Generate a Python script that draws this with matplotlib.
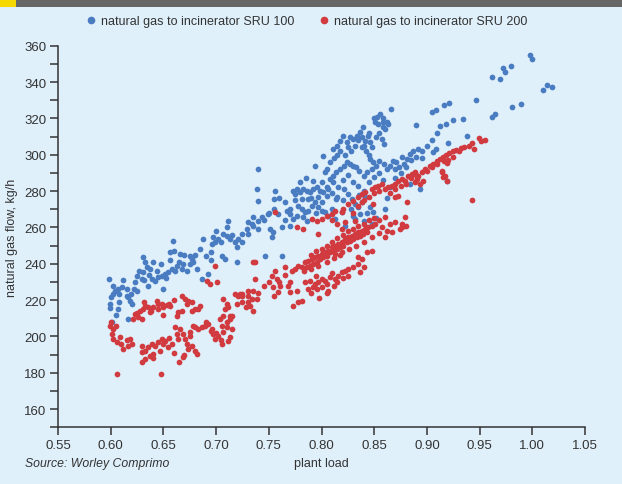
import matplotlib
matplotlib.use("Agg")
import matplotlib.pyplot as plt
from matplotlib.patches import Rectangle
from matplotlib.lines import Line2D
from matplotlib.ticker import MultipleLocator

plt.rcParams['font.family'] = ['Liberation Sans', 'DejaVu Sans']

# ---- data: SRU 100 (blue) ----
sru100_load = [
    0.5984, 0.5993, 0.5993, 0.6003, 0.6025, 0.6041, 0.6066, 0.6079, 0.6072, 0.6104,
    0.6152, 0.6167, 0.6183, 0.6167, 0.6193, 0.6231, 0.6247, 0.6247, 0.6294, 0.6309,
    0.6325, 0.6342, 0.6357, 0.6373, 0.6309, 0.6389, 0.6420, 0.6452, 0.6499, 0.6484,
    0.6515, 0.6547, 0.6563, 0.6594, 0.6579, 0.6610, 0.6626, 0.6657, 0.6674, 0.6689,
    0.6721, 0.6752, 0.6768, 0.6784, 0.6816, 0.6863, 0.6879, 0.6926, 0.6952, 0.6958,
    0.6990, 0.6974, 0.7021, 0.7053, 0.7068, 0.7100, 0.7084, 0.7132, 0.7116, 0.7179,
    0.7195, 0.7243, 0.7290, 0.7305, 0.7338,
    0.7400, 0.7385, 0.7400, 0.7559, 0.7553, 0.7654, 0.7670, 0.7590, 0.7495, 0.7433,
    0.7400, 0.7353, 0.7211, 0.7400, 0.7511, 0.7543, 0.7527, 0.7622, 0.7701, 0.7464,
    0.7622,
    0.7733, 0.7765, 0.7796, 0.7827, 0.7860, 0.7891, 0.7922, 0.7954, 0.7986, 0.8017,
    0.7922, 0.7938, 0.8033, 0.8017, 0.8049, 0.8065, 0.7780, 0.7812, 0.7843, 0.7875,
    0.7907, 0.7938, 0.7970, 0.8002, 0.8033, 0.8065, 0.7827, 0.7860, 0.7765, 0.7733,
    0.7701, 0.7812, 0.7875, 0.7970, 0.7750,
    0.8660, 0.8555, 0.8524, 0.8508, 0.8539, 0.8580, 0.8587, 0.8634, 0.8603,
    0.8397, 0.8365, 0.8334, 0.8302, 0.8270, 0.8239, 0.8207, 0.8176, 0.8144, 0.8112,
    0.8380, 0.8410, 0.8440, 0.8400, 0.8460, 0.8570, 0.8590, 0.8897,
    0.9045, 0.9086, 0.9090, 0.9060,
    0.8840, 0.8870, 0.8920, 0.8950, 0.8810, 0.8760, 0.8710, 0.8680, 0.8650, 0.8700,
    0.8740, 0.8620, 0.8590, 0.8550, 0.8520, 0.8490, 0.8460, 0.8480, 0.8430, 0.8400,
    0.8360, 0.8330, 0.8300, 0.8270, 0.8240, 0.8210, 0.8180, 0.8140, 0.8110, 0.8080,
    0.8110, 0.8160, 0.8210, 0.8250, 0.8290, 0.8320, 0.8350, 0.8380, 0.8410, 0.8460,
    0.8490, 0.8370, 0.8300, 0.8220, 0.8320, 0.8400, 0.8480, 0.8140, 0.8130, 0.8190,
    0.8935, 0.8840,
    0.9980, 0.9995, 0.9725, 0.9740, 0.9795, 0.9620, 0.9690, 1.0105, 1.0142, 1.0187,
    0.9466, 0.9160, 0.9210, 0.9810, 0.9890, 0.9620, 0.9650, 0.9250, 0.9340, 0.9380,
    0.9200, 0.9190,
]
sru100_flow = [
    231.6, 217.8, 215.4, 221.5, 223.3, 225.1, 226.1, 223.3, 215.0, 227.0,
    226.1, 221.5, 219.6, 209.5, 223.3, 229.8, 233.4, 225.1, 231.6, 235.3,
    240.8, 238.0, 227.9, 237.1, 243.5, 231.6, 230.6, 232.5, 226.1, 233.4,
    234.3, 235.3, 246.3, 252.7, 237.1, 236.1, 238.9, 245.3, 237.1, 239.8,
    236.1, 244.4, 242.6, 240.8, 237.1, 231.6, 253.6, 234.3, 246.3, 250.8,
    251.8, 254.5, 253.6, 244.4, 256.3, 255.4, 242.6, 253.6, 263.7, 251.8,
    240.8, 256.3, 259.1, 256.3, 261.8,
    292.1, 281.1, 274.7, 280.2, 275.6, 273.8, 269.2, 267.3, 267.3, 265.5,
    263.7, 260.9, 253.6, 259.1, 259.1, 257.3, 254.5, 260.0, 260.9, 244.4,
    244.4,
    280.2, 281.1, 279.3, 281.1, 280.2, 279.3, 281.1, 282.0, 280.2, 279.3,
    285.7, 293.9, 290.3, 299.4, 277.4, 281.1, 271.9, 270.1, 268.3, 269.2,
    271.9, 273.8, 271.0, 269.2, 268.3, 266.4, 265.5, 263.7, 266.4, 264.6,
    267.3, 275.6, 275.6, 276.5, 278.4,
    325.2, 322.4, 320.5, 317.8, 316.9, 317.8, 315.1, 316.9, 314.1,
    315.1, 312.3, 310.5, 308.6, 309.6, 306.8, 310.5, 307.8, 305.0, 303.1,
    309.6, 307.8, 310.5, 305.0, 306.8, 308.6, 305.9, 316.3,
    323.3, 324.8, 303.1, 301.3,
    300.4, 302.2, 303.1, 302.2, 297.6, 298.6, 295.8, 296.7, 293.9, 292.1,
    293.0, 292.1, 294.9, 296.7, 293.9, 295.8, 297.6, 292.1, 290.3, 288.4,
    291.2, 293.0, 293.9, 294.9, 295.8, 293.9, 292.1, 290.3, 288.4, 286.6,
    284.8, 282.0, 281.1, 278.4, 275.6, 272.9, 271.0, 273.8, 276.5, 271.0,
    268.3, 267.3, 266.4, 260.9, 264.6, 263.7, 261.8, 275.6, 264.6, 268.3,
    281.1, 284.0,
    354.9, 352.6, 347.7, 345.5, 348.7, 342.6, 341.9, 335.6, 338.2, 337.5,
    330.1, 327.2, 328.3, 326.1, 327.7, 320.9, 322.4, 319.1, 319.5, 310.3,
    306.3, 285.4,
]
# additional SRU 100 points read from the denser areas
sru100_load_more = [
    0.800, 0.805, 0.808, 0.812, 0.815, 0.818, 0.822, 0.825, 0.828, 0.832,
    0.835, 0.838, 0.842, 0.845, 0.848, 0.852, 0.855, 0.858, 0.862, 0.850,
    0.845, 0.805, 0.810, 0.815, 0.820, 0.825, 0.830, 0.835, 0.840, 0.845,
    0.850, 0.855, 0.858, 0.862, 0.865, 0.870, 0.875, 0.878, 0.880, 0.885,
    0.890, 0.895, 0.900, 0.905, 0.910, 0.912, 0.918, 0.800, 0.810, 0.820,
    0.828, 0.836, 0.843, 0.852, 0.860,
    0.602, 0.605, 0.608, 0.612, 0.615, 0.620, 0.622, 0.627, 0.632, 0.636,
    0.640, 0.644, 0.648, 0.652, 0.656, 0.660, 0.665, 0.670, 0.675, 0.680,
    0.685, 0.690, 0.695, 0.700, 0.705, 0.710, 0.715, 0.720, 0.725, 0.730,
    0.735, 0.745, 0.750, 0.755, 0.760, 0.765, 0.770, 0.775, 0.780, 0.785,
    0.790, 0.795, 0.601,
]
sru100_flow_more = [
    285, 292, 296, 298, 300, 302, 300, 304, 302, 305,
    308, 304, 302, 300, 304, 310, 312, 320, 318, 320,
    312, 282, 279, 277, 286, 289, 285, 283, 280, 285,
    288, 290, 286, 276, 282, 287, 290, 295, 293, 297,
    299, 298, 305, 308, 312, 316, 317, 274, 270, 275,
    270, 278, 268, 265, 270,
    228, 212, 219, 231, 222, 218, 226, 236, 231, 234,
    241, 236, 240, 232, 242, 247, 241, 245, 240, 245,
    248, 244, 242, 258, 252, 260, 256, 249, 252, 263,
    266, 264, 268, 270, 276, 264, 270, 275, 285, 287,
    276, 268, 208,
]

# ---- data: SRU 200 (red) ----
sru200_load = [
    0.6057, 0.6477, 0.5993, 0.6025, 0.6010, 0.6025, 0.6057, 0.6088, 0.6120, 0.6167,
    0.6199, 0.6183, 0.6214, 0.6230, 0.6262, 0.6278, 0.6294, 0.6309, 0.6325, 0.6357,
    0.6373, 0.6404, 0.6436, 0.6452, 0.6484, 0.6499, 0.6531, 0.6563,
    0.6294, 0.6325, 0.6357, 0.6389, 0.6420, 0.6452, 0.6484, 0.6515, 0.6547, 0.6579,
    0.6325, 0.6373, 0.6404, 0.6294, 0.6468, 0.6626, 0.6610, 0.6657, 0.6641, 0.6689,
    0.6705, 0.6721, 0.6736, 0.6768, 0.6800, 0.6816, 0.6689, 0.6752, 0.6784, 0.6831,
    0.6863, 0.6895, 0.6926, 0.6958, 0.6974, 0.6990, 0.7021, 0.7053, 0.7068, 0.7100,
    0.7132, 0.7147, 0.7116, 0.7132, 0.7053,
    0.6674, 0.6705, 0.6736, 0.6768, 0.6721, 0.6674, 0.6641, 0.6626, 0.6768, 0.6800,
    0.6831, 0.6847,
    0.6990, 0.6910, 0.6942, 0.7005, 0.7068, 0.7100, 0.7084, 0.7116, 0.7132, 0.7068,
    0.7037, 0.7179, 0.7211, 0.7243, 0.7305, 0.7338, 0.7353, 0.7305,
    0.7559, 0.7765, 0.7827, 0.7970, 0.7907, 0.7954, 0.8002, 0.8049, 0.8097, 0.8128,
    0.8192, 0.8254, 0.8302, 0.8349, 0.8381, 0.8413, 0.8381, 0.8476, 0.8508, 0.8539,
    0.8570, 0.8492, 0.8223, 0.8192, 0.8318,
    0.7843, 0.7875, 0.7907, 0.7938, 0.7970, 0.8002, 0.8033, 0.8065, 0.8097, 0.8128,
    0.8160, 0.8192, 0.8223, 0.8254, 0.8286, 0.8318, 0.8349, 0.8381, 0.8413, 0.8444,
    0.8476, 0.8508, 0.8570, 0.7860, 0.7891, 0.7922, 0.7954, 0.7986, 0.8017, 0.8049,
    0.8081, 0.8112, 0.8144, 0.8176, 0.8207, 0.8239, 0.8270, 0.8302, 0.8334, 0.8365,
    0.8397, 0.8428, 0.7812, 0.7780, 0.7750, 0.7717, 0.8128, 0.8192, 0.8349, 0.8381,
    0.8428, 0.8476, 0.8365,
    0.7843, 0.7891, 0.7938, 0.7970, 0.8002, 0.8033, 0.8081, 0.8128, 0.8160, 0.8192,
    0.8223, 0.8254, 0.7875, 0.7922, 0.7954, 0.7780, 0.7812, 0.7733, 0.8065,
    0.7559, 0.7527, 0.7575, 0.7606, 0.7543, 0.7590, 0.7685, 0.7701, 0.7765, 0.7369,
    0.7353, 0.7305, 0.7385, 0.7227, 0.7243, 0.7322, 0.7654, 0.7369,
    0.8634, 0.8666, 0.8697, 0.8729, 0.8761, 0.8792, 0.8824, 0.8856, 0.8887, 0.8919,
    0.8951, 0.8903, 0.8935, 0.8982, 0.8887, 0.8966, 0.9029, 0.9060, 0.9093, 0.9140,
    0.9172, 0.9187, 0.8697, 0.8729, 0.8810, 0.8792, 0.8761, 0.8745, 0.8666, 0.8603,
    0.8800, 0.8760,
    0.9430, 0.9490, 0.9510, 0.9320, 0.9280, 0.9250, 0.9210, 0.9180, 0.9150, 0.9120,
    0.9160, 0.9190, 0.9140, 0.9150, 0.9425,
]
sru200_flow = [
    179.3, 179.3, 205.9, 204.0, 201.3, 198.5, 196.7, 199.5, 193.0, 194.8,
    195.8, 198.5, 209.5, 212.3, 210.5, 214.1, 209.5, 215.1, 216.9, 216.0,
    213.2, 216.0, 219.6, 215.1, 217.8, 216.0, 217.3, 216.5,
    191.2, 192.1, 194.0, 195.8, 194.8, 196.7, 198.5, 197.6, 194.0, 195.8,
    187.5, 189.3, 190.3, 185.7, 192.1, 201.3, 205.0, 204.0, 198.5, 201.3,
    198.5, 195.8, 193.0, 194.8, 192.1, 190.3, 188.5, 202.2, 205.9, 204.0,
    205.0, 205.9, 206.8, 204.0, 201.3, 198.5, 200.4, 205.9, 202.2, 207.7,
    209.5, 204.0, 197.6, 199.5, 195.8,
    222.4, 220.6, 219.6, 218.7, 217.8, 214.1, 213.2, 211.4, 214.1, 215.1,
    215.1, 216.9,
    238.9, 230.6, 228.8, 229.8, 220.6, 217.8, 215.1, 216.0, 211.4, 211.4,
    209.5, 223.3, 222.4, 223.3, 225.1, 220.6, 240.8, 218.7,
    268.3, 260.0, 259.1, 256.3, 264.6, 263.7, 264.6, 266.4, 267.3, 269.2,
    268.3, 272.9, 274.7, 276.5, 278.4, 279.3, 273.8, 281.1, 282.0, 283.0,
    283.9, 272.9, 262.8, 259.1, 263.7,
    240.8, 241.7, 242.6, 243.5, 244.4, 245.3, 246.3, 247.2, 249.0, 249.9,
    250.8, 251.8, 253.6, 254.5, 255.4, 256.3, 257.3, 258.2, 259.1, 260.0,
    260.9, 261.8, 260.0, 238.0, 238.9, 239.8, 240.8, 242.6, 243.5, 244.4,
    246.3, 247.2, 248.1, 249.0, 249.9, 251.8, 252.7, 253.6, 254.5, 255.4,
    256.3, 257.3, 238.0, 238.9, 237.1, 236.1, 245.3, 246.3, 243.5, 242.6,
    246.3, 247.2, 235.3,
    229.8, 230.6, 228.8, 229.8, 231.6, 230.6, 232.5, 231.6, 233.4, 235.3,
    236.1, 237.1, 226.1, 227.0, 226.1, 218.7, 219.6, 216.9, 225.1,
    236.1, 233.4, 231.6, 227.9, 227.0, 224.3, 227.9, 224.3, 225.1, 231.6,
    225.1, 222.4, 220.6, 223.3, 218.7, 216.9, 238.0, 240.8,
    282.0, 283.0, 283.9, 285.7, 286.6, 285.7, 288.4, 289.4, 290.3, 288.4,
    290.3, 286.6, 283.9, 292.1, 284.8, 285.7, 293.9, 294.9, 296.7, 291.2,
    288.4, 285.7, 276.5, 277.4, 273.8, 265.5, 261.8, 259.1, 257.3, 254.5,
    261.0, 260.0,
    306.3, 309.2, 307.7, 303.7, 302.6, 301.9, 300.8, 299.7, 298.6, 297.6,
    296.4, 295.3, 290.3, 287.6, 275.2,
]
# additional SRU 200 points read from the denser areas
sru200_load_more = [
    0.790, 0.795, 0.800, 0.805, 0.810, 0.815, 0.820, 0.825, 0.830, 0.835,
    0.840, 0.845, 0.850, 0.855, 0.860, 0.865, 0.870,
    0.783, 0.790, 0.797, 0.805, 0.812, 0.818, 0.826, 0.833, 0.840, 0.848,
    0.855, 0.862,
    0.795, 0.800, 0.805, 0.810, 0.815, 0.820, 0.825, 0.830, 0.835, 0.840,
    0.790, 0.798, 0.805, 0.812,
    0.810, 0.815, 0.820, 0.830, 0.835, 0.840, 0.845, 0.850, 0.855, 0.860,
    0.865, 0.870, 0.875, 0.880, 0.885, 0.890, 0.900, 0.905, 0.910, 0.920,
    0.925, 0.930, 0.935, 0.940, 0.945, 0.955,
    0.600, 0.605, 0.610, 0.615, 0.625, 0.632, 0.638, 0.645, 0.650, 0.655,
    0.660, 0.630, 0.640, 0.650, 0.655, 0.660, 0.665, 0.670, 0.675, 0.680,
    0.690, 0.695, 0.700, 0.705, 0.710, 0.715, 0.720, 0.725, 0.728, 0.735,
    0.740, 0.745, 0.750, 0.755, 0.760, 0.765, 0.770,
]
sru200_flow_more = [
    245, 247, 248, 250, 252, 254, 256, 258, 259, 261,
    262, 264, 265, 264, 266, 262, 263,
    236, 237, 239, 241, 243, 245, 248, 250, 252, 255,
    257, 258,
    233, 227, 229, 235, 230, 232, 233, 238, 240, 238,
    224, 221, 224, 228,
    264, 262, 270, 268, 272, 275, 277, 279, 280, 281,
    279, 281, 283, 284, 287, 289, 291, 293, 295, 297,
    299, 302, 304, 305, 303, 308,
    208, 206, 196, 198, 213, 219, 214, 218, 212, 218,
    220, 195, 188, 196, 199, 191, 186, 190, 200, 205,
    208, 203, 202, 198, 205, 211, 218, 222, 216, 214,
    224, 228, 230, 222, 230, 234, 230,
]

x_ticks = [0.55, 0.60, 0.65, 0.70, 0.75, 0.80, 0.85, 0.90, 0.95, 1.00, 1.05]
y_ticks = [160, 180, 200, 220, 240, 260, 280, 300, 320, 340, 360]

BG = '#dff0fb'
BLUE = '#4a7cc1'
RED = '#d13b40'
TXT = '#333333'

W, H = 622, 485
fig = plt.figure(figsize=(W / 100, H / 100), dpi=100, facecolor=BG)
ax = fig.add_axes([58 / W, 1 - 428.3 / H, (585 - 58) / W, (428.3 - 46.7) / H])
ax.set_facecolor(BG)

ax.scatter(sru100_load + sru100_load_more, sru100_flow + sru100_flow_more,
           s=17, color=BLUE, linewidths=0, zorder=3)
ax.scatter(sru200_load + sru200_load_more, sru200_flow + sru200_flow_more,
           s=17, color=RED, linewidths=0, zorder=3)

ax.set_xlim(0.55, 1.05)
ax.set_ylim(150, 360)
ax.set_xticks(x_ticks)
ax.set_xticklabels([f'{v:.2f}' for v in x_ticks])
ax.set_yticks(y_ticks)
ax.set_yticklabels([str(v) for v in y_ticks])
ax.yaxis.set_minor_locator(MultipleLocator(10))

for s in ['top', 'right']:
    ax.spines[s].set_visible(False)
for s in ['left', 'bottom']:
    ax.spines[s].set_color('#333333')
    ax.spines[s].set_linewidth(1.1)
ax.tick_params(axis='both', which='major', length=5.5, width=1.1, color='#333333',
               labelsize=9.5, labelcolor=TXT, pad=3)
ax.tick_params(axis='y', which='minor', length=5.5, width=1.1, color='#333333')

ax.set_ylabel('natural gas flow, kg/h', fontsize=9, color=TXT)
ax.yaxis.set_label_coords((18 - 58) / 527, 0.5)
fig.text(321 / W, 1 - 464 / H, 'plant load', ha='center', va='center', fontsize=9, color=TXT)
fig.text(25 / W, 1 - 464 / H, 'Source: Worley Comprimo', ha='left', va='center',
         fontsize=8.8, color=TXT, style='italic')

# top bar
fig.patches.append(Rectangle((0, 1 - 8 / H), 1, 8 / H, transform=fig.transFigure,
                             facecolor='#666666', edgecolor='none', zorder=5))
fig.patches.append(Rectangle((0, 1 - 8 / H), 16 / W, 8 / H, transform=fig.transFigure,
                             facecolor='#f5d800', edgecolor='none', zorder=6))

handles = [
    Line2D([], [], linestyle='none', marker='o', markersize=4.5, color=BLUE,
           label='natural gas to incinerator SRU 100'),
    Line2D([], [], linestyle='none', marker='o', markersize=4.5, color=RED,
           label='natural gas to incinerator SRU 200'),
]
fig.legend(handles=handles, loc='center', bbox_to_anchor=(306 / W, 1 - 22 / H), ncol=2,
           frameon=False, fontsize=9, handletextpad=0.3, columnspacing=1.9,
           handlelength=1.0, labelcolor=TXT)

fig.savefig('out.png', dpi=100, facecolor=BG)
